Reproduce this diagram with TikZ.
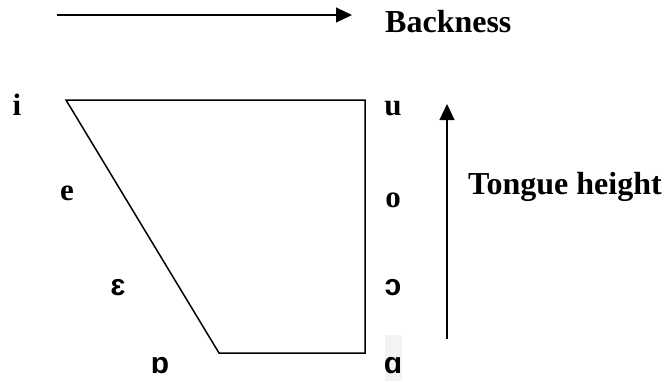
\documentclass[tikz,border=0pt]{standalone}
\usepackage{fontspec}
\setmainfont{Liberation Serif}
\newfontfamily\ipafont{Liberation Sans}
\usetikzlibrary{arrows.meta}
\definecolor{inkcolor}{HTML}{000000}
\definecolor{shadecolor}{HTML}{F3F3F3}

\begin{document}
\begin{tikzpicture}[x=1pt, y=-1pt,
    vowel/.style={font=\fontsize{31}{31}\selectfont\bfseries, color=inkcolor, inner sep=0pt, anchor=base},
    ipavowel/.style={font=\fontsize{30}{30}\selectfont\ipafont\bfseries, color=inkcolor, inner sep=0pt, anchor=base},
    axislabel/.style={font=\fontsize{32}{32}\selectfont\bfseries, color=inkcolor, inner sep=0pt, anchor=base west},
    axisarrow/.style={-{Triangle[length=16pt, width=15pt]}, inkcolor, line width=1.1pt}]
  \useasboundingbox (0,0) rectangle (667,381);
  % trapezium corners
  \coordinate (front-high) at (66,100);
  \coordinate (back-high) at (365,100);
  \coordinate (back-low) at (365,353);
  \coordinate (front-low) at (219,353);
  \draw[inkcolor, line width=1.5pt, line join=miter]
    (front-high) -- (back-high) -- (back-low) -- (front-low) -- cycle;
  % axes
  \coordinate (back-start) at (57,15);
  \coordinate (back-end) at (352,15);
  \draw[axisarrow] (back-start) -- (back-end);
  \node[axislabel] (backness) at (385,32) {Backness};
  \coordinate (height-start) at (447,339);
  \coordinate (height-end) at (447,104);
  \draw[axisarrow] (height-start) -- (height-end);
  \node[axislabel] (tongue) at (468,194) {Tongue height};
  % vowels
  \fill[shadecolor] (385,335) rectangle (402,381);
  \node[vowel] (i) at (17,115) {i};
  \node[vowel] (u) at (393,115) {u};
  \node[vowel] (e) at (67,200) {e};
  \node[vowel] (o) at (393,207) {o};
  \node[ipavowel] (epsilon) at (118,295) {ɛ};
  \node[ipavowel] (openo) at (393,295) {ɔ};
  \node[ipavowel] (turneda) at (160,373) {ɒ};
  \node[ipavowel] (scripta) at (393,373) {ɑ};
\end{tikzpicture}
\end{document}
